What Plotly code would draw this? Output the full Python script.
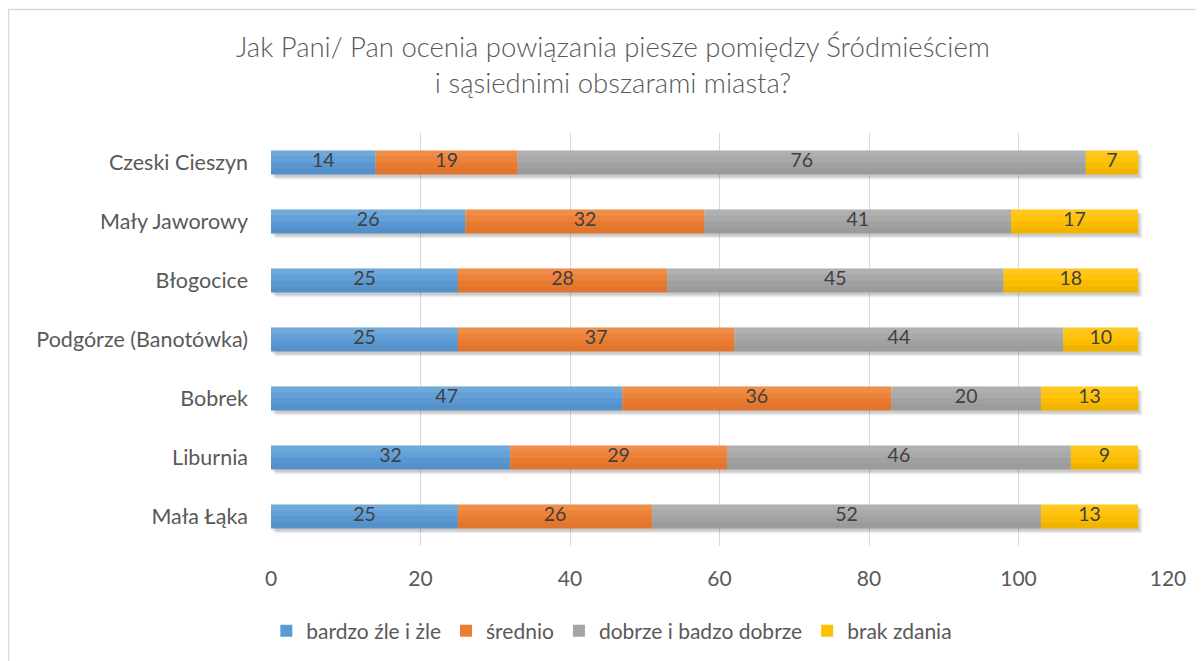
import plotly.graph_objects as go
import numpy as np

categories = ["Mała Łąka", "Liburnia", "Bobrek", "Podgórze (Banotówka)",
              "Błogocice", "Mały Jaworowy", "Czeski Cieszyn"]
series_names = ["bardzo źle i żle", "średnio", "dobrze i badzo dobrze", "brak zdania"]
bardzo_zle = [25, 32, 47, 25, 25, 26, 14]
srednio = [26, 29, 36, 37, 28, 32, 19]
dobrze = [52, 46, 20, 44, 45, 41, 76]
brak = [13, 9, 13, 10, 18, 17, 7]
x_ticks = [0, 20, 40, 60, 80, 100, 120]

colors = ["#5B9BD5", "#ED7D31", "#A5A5A5", "#FFC000"]
values = [bardzo_zle, srednio, dobrze, brak]

FONT = "Lato"
TXT = "#595959"

# page body adds an 8px offset; layout coordinates below are relative to the figure
L, T, PW, PH = 263, 125, 897, 413
W, H = 1204, 661

fig = go.Figure()

totals = np.sum(np.array(values), axis=0)
ypos = np.arange(len(categories))
n = len(categories)
bw = 0.41

# soft shadow behind bars
for dx, dy, a in [(0.6, -0.08, 0.06), (0.4, -0.06, 0.08), (0.2, -0.04, 0.08)]:
    fig.add_trace(go.Bar(
        y=ypos + dy, x=totals, base=[dx] * n, orientation="h",
        width=bw, marker=dict(color=f"rgba(0,0,0,{a})", line=dict(width=0)),
        showlegend=False, hoverinfo="skip"))

base = np.zeros(n)
bases = []
for name, vals, col in zip(series_names, values, colors):
    bases.append(base.copy())
    fig.add_trace(go.Bar(
        y=ypos, x=vals, base=base.copy(), orientation="h", name=name,
        width=bw, marker=dict(color=col, line=dict(width=0))))
    base = base + np.array(vals)

# gradient shading bands (lighter top, darker bottom)
bands = ["rgba(255,255,255,0.13)", "rgba(255,255,255,0.05)",
         "rgba(0,0,0,0.02)", "rgba(0,0,0,0.06)"]
for i, c in enumerate(bands):
    fig.add_trace(go.Bar(
        y=ypos, x=totals, base=[0] * n, orientation="h",
        width=bw / 4, offset=bw / 2 - (i + 1) * bw / 4,
        marker=dict(color=c, line=dict(width=0)),
        showlegend=False, hoverinfo="skip"))

# data labels
for b, vals in zip(bases, values):
    fig.add_trace(go.Scatter(
        x=b + np.array(vals) / 2, y=ypos, mode="text",
        text=[str(v) for v in vals], textposition="middle center",
        textfont=dict(family=FONT, size=19.5, color="#404040"),
        showlegend=False, hoverinfo="skip"))

fig.update_layout(
    width=W, height=H,
    barmode="overlay",
    paper_bgcolor="white", plot_bgcolor="white",
    margin=dict(l=L, r=W - L - PW, t=T, b=H - T - PH),
    title=dict(text="Jak Pani/ Pan ocenia powiązania piesze pomiędzy Śródmieściem<br>i sąsiednimi obszarami miasta?",
               x=605 / W, xanchor="center", y=1 - 49 / H, yanchor="middle",
               font=dict(family=FONT, size=27.5, color=TXT, weight=300)),
    xaxis=dict(range=[0, 120], tickvals=x_ticks, showgrid=True, gridcolor="#D9D9D9",
               gridwidth=1, zeroline=False, showline=False, ticks="",
               tickfont=dict(family=FONT, size=21, color=TXT), ticklabelstandoff=18,
               fixedrange=True),
    yaxis=dict(range=[-0.5, n - 0.5], tickvals=list(ypos), ticktext=categories,
               showgrid=False, zeroline=False, showline=False, ticks="",
               tickfont=dict(family=FONT, size=21.5, color=TXT), ticklabelstandoff=22),
    legend=dict(orientation="h", x=0.38, xanchor="center", y=-0.206, yanchor="middle",
                font=dict(family=FONT, size=21, color=TXT), traceorder="normal",
                itemwidth=30, bgcolor="rgba(0,0,0,0)"),
    showlegend=True,
    shapes=[dict(type="rect", xref="paper", yref="paper",
                 x0=(0.5 - L) / PW, x1=1.3, y0=-0.6, y1=(T + PH - 1.5) / PH,
                 line=dict(color="#D9D9D9", width=1.5), fillcolor="rgba(0,0,0,0)",
                 layer="below")],
)

fig.write_html("out.html")
